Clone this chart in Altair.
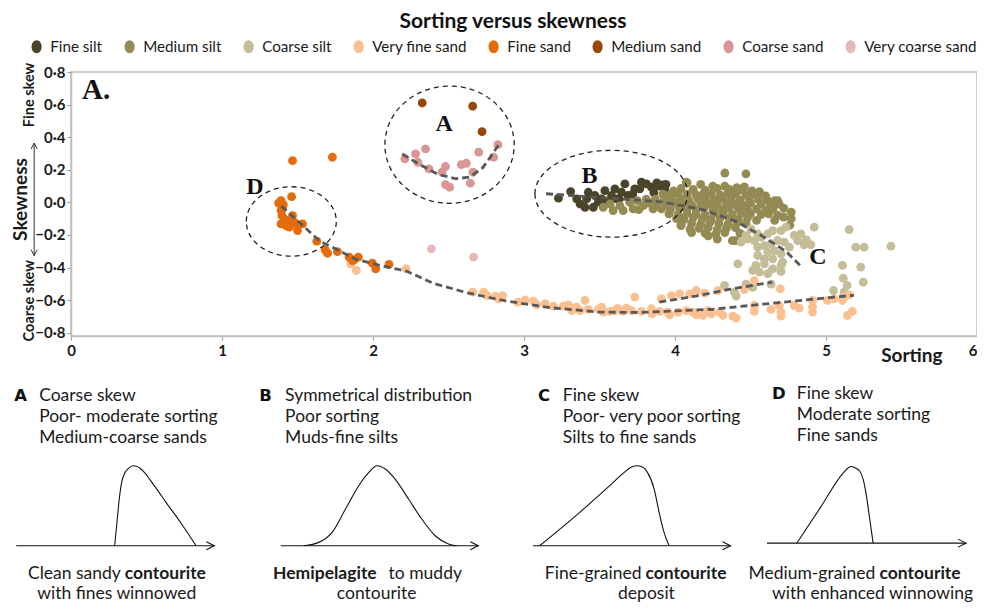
import altair as alt
import pandas as pd

# ------------------------------------------------------------------ data
categories = ["Fine silt", "Medium silt", "Coarse silt", "Very fine sand",
              "Fine sand", "Medium sand", "Coarse sand", "Very coarse sand"]
colors = ["#4A452A", "#948A54", "#C4BD97", "#FAC090",
          "#E46C0A", "#984807", "#D99694", "#E6B9B8"]

# (sorting, skewness) pairs
fine_silt = [
    (3.228, 0.026), (3.309, 0.066), (3.349, 0.021), (3.371, -0.010), (3.415, 0.021),
    (3.426, 0.062), (3.459, -0.030), (3.470, 0.042), (3.514, 0.021), (3.536, 0.072),
    (3.580, 0.042), (3.602, 0.083), (3.646, 0.062), (3.668, 0.113), (3.690, 0.042),
    (3.734, 0.083), (3.778, 0.124), (3.811, 0.113), (3.844, 0.093), (3.877, 0.103),
    (3.920, 0.107), (3.932, 0.083), (3.767, 0.083), (3.613, 0.021), (3.492, 0.001),
    (3.404, -0.030), (3.550, 0.000), (3.630, 0.020), (3.720, 0.050), (3.860, 0.060),
    (3.900, 0.100), (3.940, 0.110), (3.880, 0.120),
]
medium_silt = [
    (4.33, 0.18), (4.47, 0.175),
    (4.08, 0.12), (4.17, 0.11), (4.25, 0.10), (4.33, 0.10), (4.41, 0.09), (4.46, 0.095),
    (3.99, 0.07), (4.04, 0.085), (4.12, 0.08), (4.20, 0.075), (4.28, 0.085), (4.36, 0.08),
    (4.44, 0.075), (4.51, 0.07), (4.56, 0.065),
    (3.92, 0.05), (3.97, 0.045), (4.02, 0.055), (4.08, 0.05), (4.14, 0.045), (4.19, 0.055),
    (4.24, 0.05), (4.30, 0.045), (4.35, 0.055), (4.40, 0.05), (4.47, 0.045), (4.53, 0.05),
    (4.60, 0.04),
    (3.87, 0.02), (3.93, 0.015), (3.98, 0.025), (4.04, 0.02), (4.09, 0.015), (4.15, 0.025),
    (4.20, 0.02), (4.26, 0.015), (4.31, 0.025), (4.37, 0.02), (4.43, 0.015), (4.49, 0.025),
    (4.55, 0.02), (4.61, 0.015), (4.66, 0.01), (4.68, 0.01),
    (3.88, -0.01), (3.94, -0.015), (4.00, -0.005), (4.06, -0.01), (4.11, -0.015), (4.17, -0.005),
    (4.23, -0.01), (4.28, -0.015), (4.34, -0.005), (4.39, -0.01), (4.45, -0.015), (4.50, -0.005),
    (4.57, -0.01), (4.63, -0.02), (4.69, -0.01),
    (3.91, -0.04), (3.97, -0.045), (4.03, -0.035), (4.08, -0.04), (4.14, -0.045), (4.19, -0.035),
    (4.25, -0.04), (4.31, -0.045), (4.36, -0.035), (4.42, -0.04), (4.48, -0.045), (4.54, -0.04),
    (4.60, -0.05), (4.65, -0.04), (4.72, -0.035),
    (3.96, -0.07), (4.02, -0.075), (4.08, -0.065), (4.14, -0.07), (4.20, -0.075), (4.26, -0.065),
    (4.32, -0.07), (4.38, -0.075), (4.44, -0.065), (4.50, -0.07), (4.57, -0.075), (4.62, -0.07),
    (4.68, -0.08), (4.72, -0.09), (4.77, -0.06),
    (4.01, -0.10), (4.06, -0.105), (4.12, -0.095), (4.18, -0.10), (4.24, -0.105), (4.30, -0.095),
    (4.36, -0.10), (4.42, -0.105), (4.48, -0.095), (4.54, -0.11), (4.66, -0.11), (4.77, -0.10),
    (4.76, -0.14),
    (4.04, -0.14), (4.11, -0.13), (4.17, -0.135), (4.23, -0.125), (4.29, -0.13), (4.35, -0.135),
    (4.41, -0.125), (4.47, -0.13),
    (4.10, -0.165), (4.16, -0.16), (4.22, -0.155), (4.28, -0.165), (4.34, -0.16), (4.40, -0.155),
    (4.11, -0.185), (4.20, -0.19), (4.27, -0.195), (4.33, -0.185), (4.43, -0.19),
    (4.22, -0.205), (4.28, -0.225), (4.38, -0.235), (4.40, -0.235),
    (3.525, -0.03), (3.57, -0.01), (3.59, -0.05), (3.635, -0.02), (3.657, -0.05), (3.70, 0.0),
    (3.723, -0.04), (3.76, -0.045), (3.79, -0.02), (3.81, 0.02), (3.855, -0.04), (3.83, -0.005),
    (3.75, 0.01), (3.943, 0.04), (4.075, 0.124), (4.031, -0.091), (4.04, -0.142),
]
coarse_silt = [
    (4.922, -0.152), (5.153, -0.167), (5.197, -0.275), (5.252, -0.275), (5.430, -0.269),
    (5.109, -0.387), (5.230, -0.397), (5.114, -0.465), (5.247, -0.490), (5.050, -0.541),
    (5.120, -0.551), (5.140, -0.510),
    (4.504, -0.163), (4.548, -0.193), (4.438, -0.244), (4.482, -0.224), (4.526, -0.234),
    (4.570, -0.213), (4.614, -0.193), (4.647, -0.173), (4.702, -0.173), (4.735, -0.152),
    (4.790, -0.203), (4.812, -0.234), (4.856, -0.261), (4.834, -0.193), (4.548, -0.275),
    (4.592, -0.265), (4.636, -0.254), (4.680, -0.234), (4.724, -0.244), (4.757, -0.275),
    (4.614, -0.306), (4.658, -0.296), (4.702, -0.316), (4.548, -0.326), (4.592, -0.347),
    (4.647, -0.347), (4.713, -0.367), (4.536, -0.387), (4.592, -0.377), (4.515, -0.418),
    (4.559, -0.428), (4.614, -0.438), (4.647, -0.408), (4.702, -0.387), (4.702, -0.424),
    (4.471, -0.203), (4.416, -0.377), (4.328, -0.510), (4.394, -0.551), (4.405, -0.575),
    (4.471, -0.502), (4.515, -0.522), (4.636, -0.502), (4.870, -0.230), (4.900, -0.260),
]
very_fine_sand = [
    (1.853, -0.377), (1.890, -0.418), (2.220, -0.408),
    (2.660, -0.551), (2.733, -0.551), (2.755, -0.572), (2.810, -0.575), (2.832, -0.592),
    (2.858, -0.572), (2.959, -0.612), (3.008, -0.598), (3.063, -0.606), (3.085, -0.629),
    (3.140, -0.622), (3.195, -0.637), (3.261, -0.637), (3.294, -0.629), (3.316, -0.664),
    (3.349, -0.643), (3.404, -0.602), (3.371, -0.664), (3.426, -0.657), (3.492, -0.657),
    (3.514, -0.643), (3.525, -0.673), (3.569, -0.669), (3.657, -0.669), (3.679, -0.649),
    (3.734, -0.581), (3.305, -0.643), (3.600, -0.665), (3.620, -0.650),
    (3.712, -0.664), (3.778, -0.669), (3.844, -0.653), (3.848, -0.684), (3.899, -0.669),
    (3.954, -0.673), (3.965, -0.690), (4.020, -0.673), (4.075, -0.664), (4.119, -0.673),
    (4.141, -0.690), (4.185, -0.694), (4.218, -0.664), (4.240, -0.684), (4.295, -0.673),
    (4.317, -0.694), (4.383, -0.698), (4.405, -0.710), (4.526, -0.633), (4.526, -0.669),
    (4.636, -0.657), (4.691, -0.633), (4.702, -0.673), (4.702, -0.698), (4.790, -0.633),
    (4.823, -0.649), (4.911, -0.602), (4.911, -0.643), (4.911, -0.673), (5.010, -0.602),
    (5.054, -0.592), (5.109, -0.602), (5.120, -0.581), (5.153, -0.567), (5.142, -0.694),
    (5.175, -0.669),
    (3.910, -0.592), (3.976, -0.572), (4.031, -0.561), (4.097, -0.561), (4.141, -0.541),
    (4.196, -0.557), (4.284, -0.541), (4.460, -0.535), (4.526, -0.480), (4.698, -0.531),
]
fine_sand = [
    (1.467, 0.256), (1.731, 0.277), (1.461, 0.035), (1.391, 0.011), (1.375, -0.005),
    (1.402, -0.030), (1.391, -0.050), (1.397, -0.081), (1.413, -0.101), (1.391, -0.132),
    (1.424, -0.142), (1.446, -0.152), (1.467, -0.081), (1.479, -0.122), (1.500, -0.142),
    (1.533, -0.132), (1.500, -0.173), (1.406, -0.014), (1.434, -0.112), (1.628, -0.238),
    (1.683, -0.291), (1.699, -0.312), (1.764, -0.302), (1.842, -0.336), (1.875, -0.353),
    (1.903, -0.336), (1.864, -0.357), (1.996, -0.373), (2.018, -0.408), (2.106, -0.381),
]
medium_sand = [(2.326, 0.610), (2.660, 0.590), (2.722, 0.434)]
coarse_sand = [
    (2.211, 0.267), (2.282, 0.297), (2.348, 0.328), (2.297, 0.246), (2.370, 0.205),
    (2.480, 0.220), (2.458, 0.185), (2.480, 0.109), (2.508, 0.093), (2.585, 0.232),
    (2.618, 0.240), (2.662, 0.185), (2.645, 0.118), (2.700, 0.308), (2.799, 0.277),
    (2.827, 0.354),
]
very_coarse_sand = [(2.387, -0.285), (2.666, -0.336)]

# dashed trend lines (sorting, skewness)
trend_A = [(2.193, 0.297), (2.308, 0.233), (2.430, 0.172), (2.550, 0.145), (2.640, 0.155),
           (2.727, 0.213), (2.782, 0.284), (2.833, 0.356)]
trend_BC = [(3.146, 0.053), (3.510, 0.029), (3.896, 0.005), (4.180, -0.043), (4.400, -0.115),
            (4.578, -0.207), (4.733, -0.299), (4.843, -0.400)]
trend_main = [(1.393, -0.023), (1.520, -0.130), (1.647, -0.237), (1.890, -0.350), (2.060, -0.390),
              (2.220, -0.421), (2.400, -0.497), (2.620, -0.554), (2.880, -0.605), (3.170, -0.646),
              (3.500, -0.673), (3.760, -0.676), (4.250, -0.656), (4.580, -0.625), (4.800, -0.605),
              (5.020, -0.584), (5.185, -0.570)]
trend_upper = [(3.896, -0.612), (4.138, -0.575), (4.358, -0.534), (4.645, -0.489)]

# schematic grain-size curves: u = position along the panel axis (0-1), v = relative frequency (0-1)
curve_A_u = [0.497, 0.509, 0.521, 0.533, 0.548, 0.568, 0.590, 0.607, 0.625, 0.648, 0.673,
             0.715, 0.757, 0.800, 0.841, 0.875, 0.908]
curve_A_v = [0, 0.30, 0.60, 0.80, 0.91, 0.97, 1.0, 0.995, 0.97, 0.915, 0.834,
             0.69, 0.54, 0.395, 0.25, 0.125, 0]
curve_B_u = [0.117, 0.193, 0.260, 0.328, 0.395, 0.446, 0.487, 0.529, 0.579, 0.647, 0.714,
             0.782, 0.849, 0.890]
curve_B_v = [0, 0.042, 0.167, 0.459, 0.75, 0.917, 1.0, 0.959, 0.834, 0.584, 0.334,
             0.125, 0.021, 0]
curve_C_u = [0.034, 0.227, 0.403, 0.464, 0.494, 0.524, 0.555, 0.580, 0.614, 0.639, 0.664, 0.689]
curve_C_v = [0, 0.396, 0.784, 0.921, 0.978, 1.0, 0.984, 0.918, 0.709, 0.418, 0.167, 0]
curve_D_u = [0.150, 0.270, 0.3835, 0.4085, 0.425, 0.4415, 0.4665, 0.4835, 0.500, 0.5165, 0.5335]
curve_D_v = [0, 0.47, 0.918, 0.983, 1.0, 0.983, 0.939, 0.831, 0.614, 0.312, 0]

panel_letters = ["A", "B", "C", "D"]
panel_lines = [
    ["Coarse skew", "Poor- moderate sorting", "Medium-coarse sands"],
    ["Symmetrical distribution", "Poor sorting", "Muds-fine silts"],
    ["Fine skew", "Poor- very poor sorting", "Silts to fine sands"],
    ["Fine skew", "Moderate sorting", "Fine sands"],
]

# ------------------------------------------------------------------ layout (chart units)
x_scale = alt.Scale(domain=[0, 6], nice=False, zero=False)
y_scale = alt.Scale(domain=[-0.82, 0.8], nice=False, zero=False)
FONT = "Lato"

def X(field):
    return alt.X(field, type="quantitative", scale=x_scale)

def Y(field):
    return alt.Y(field, type="quantitative", scale=y_scale)

# scatter table
groups = [fine_silt, medium_silt, coarse_silt, very_fine_sand,
          fine_sand, medium_sand, coarse_sand, very_coarse_sand]
rows = []
for name, pts in zip(categories, groups):
    for sx, sk in pts:
        rows.append({"Sorting": sx, "Skewness": sk, "Fraction": name})
scatter_df = pd.DataFrame(rows)

legend_oval = "M-0.78,0 A0.78,1 0 1,1 0.78,0 A0.78,1 0 1,1 -0.78,0 Z"

points = alt.Chart(scatter_df).mark_circle(size=78, opacity=1, clip=False).encode(
    x=alt.X("Sorting:Q", scale=x_scale, axis=alt.Axis(
        title="Sorting", values=[0, 1, 2, 3, 4, 5, 6], format="d", grid=False, tickCount=7,
        labelAlign={"condition": {"test": "datum.value == 6", "value": "right"}, "value": "center"},
        labelFont=FONT, labelFontSize=15, labelFontWeight="bold", labelColor="#1a1a1a",
        labelPadding=3, tickSize=4, tickColor="#999999", domainColor="#bfbfbf", domainWidth=1.5,
        labelOverlap=False,
        titleFont=FONT, titleFontSize=19, titleFontWeight="bold", titleColor="#1a1a1a",
        titleX=871, titleY=25, titleAlign="right", titleBaseline="alphabetic")),
    y=alt.Y("Skewness:Q", scale=y_scale, axis=alt.Axis(
        title="Skewness", values=[-0.8, -0.6, -0.4, -0.2, 0, 0.2, 0.4, 0.6, 0.8], grid=False,
        tickCount=9,
        labelExpr="replace(format(datum.value, '.1f'), '.', '\u00b7')",
        labelFont=FONT, labelFontSize=15, labelFontWeight="bold", labelColor="#1a1a1a",
        labelPadding=2, tickSize=4, tickColor="#999999", domainColor="#bfbfbf", domainWidth=1.5,
        labelOverlap=False,
        titleFont=FONT, titleFontSize=19, titleFontWeight="bold", titleColor="#1a1a1a",
        titleX=-51, titleY=127, titleAngle=270, titleAlign="center", titleBaseline="middle")),
    color=alt.Color("Fraction:N", scale=alt.Scale(domain=categories, range=colors),
                    legend=alt.Legend(title=None, orient="none", legendX=-42, legendY=-33,
                                      direction="horizontal", symbolType=legend_oval,
                                      symbolSize=169, symbolStrokeWidth=0, labelFont=FONT,
                                      labelFontSize=15.2, labelColor="#1a1a1a", labelOffset=6,
                                      columnPadding=19, labelLimit=300)),
)

# dashed trend lines
trend_rows = []
for name, pts in [("A", trend_A), ("BC", trend_BC), ("main", trend_main), ("upper", trend_upper)]:
    for i, (sx, sk) in enumerate(pts):
        trend_rows.append({"line": name, "i": i, "x": sx, "y": sk})
trends = alt.Chart(pd.DataFrame(trend_rows)).mark_line(
    color="#595959", strokeWidth=2.8, strokeDash=[7, 4], clip=False
).encode(x=X("x"), y=Y("y"), detail="line:N", order="i:Q")

# dashed ellipses around groups A, B, D (center in chart units; size in px via custom symbol)
ell_df = pd.DataFrame({
    "x": [2.507, 3.578, 1.459],
    "y": [0.354, 0.053, -0.117],
    "shape": ["M-1,0 A1,0.907 0 1,1 1,0 A1,0.907 0 1,1 -1,0 Z",
              "M-1,0 A1,0.568 0 1,1 1,0 A1,0.568 0 1,1 -1,0 Z",
              "M-1,0 A1,0.771 0 1,1 1,0 A1,0.771 0 1,1 -1,0 Z"],
    "size": [129.3 ** 2, 152.7 ** 2, 90.0 ** 2],
})
ellipses = alt.Chart(ell_df).mark_point(
    filled=False, color="#222222", strokeWidth=1.3, strokeDash=[5, 4], opacity=1, clip=False
).encode(x=X("x"), y=Y("y"), shape=alt.Shape("shape:N", scale=None),
         size=alt.Size("size:Q", scale=None))

# group letters inside the plot
big_letter = alt.Chart(pd.DataFrame({"x": [0.0725], "y": [0.634], "t": ["A."]})).mark_text(
    font="Liberation Serif", fontWeight="bold", fontSize=29, align="left",
    baseline="alphabetic", color="#111111"
).encode(x=X("x"), y=Y("y"), text="t:N")
group_letters = alt.Chart(pd.DataFrame({
    "x": [2.471, 3.433, 4.947, 1.218], "y": [0.437, 0.121, -0.380, 0.049],
    "t": ["A", "B", "C", "D"]})).mark_text(
    font="Liberation Serif", fontWeight="bold", fontSize=24, align="center",
    baseline="alphabetic", color="#111111"
).encode(x=X("x"), y=Y("y"), text="t:N")

# fine / coarse skew labels with double arrow beside the y axis
side_text = alt.Chart(pd.DataFrame({
    "x": [-0.270, -0.270], "y": [0.659, -0.604], "t": ["Fine skew", "Coarse skew"]})).mark_text(
    font=FONT, fontWeight="bold", fontSize=14.5, angle=270, align="center",
    baseline="middle", color="#1a1a1a"
).encode(x=X("x"), y=Y("y"), text="t:N")
side_arrow = alt.Chart(pd.DataFrame({"x": [-0.244], "y": [0.362], "y2": [-0.325]})).mark_rule(
    color="#333333", strokeWidth=1
).encode(x=X("x"), y=Y("y"), y2="y2:Q")
side_heads = alt.Chart(pd.DataFrame({
    "x": [-0.244, -0.244], "y": [0.346, -0.309],
    "shape": ["M-1,1 L0,-1 L1,1", "M-1,-1 L0,1 L1,-1"]})).mark_point(
    filled=False, color="#333333", strokeWidth=1, size=36, opacity=1
).encode(x=X("x"), y=Y("y"), shape=alt.Shape("shape:N", scale=None))

# ------------------------------------------------------------------ lower panels
panel_x0 = [-0.363, 1.389, 3.059, 4.609]      # axis start
panel_x1 = [0.949, 2.697, 4.367, 5.927]       # axis end
panel_y0 = [-2.107, -2.107, -2.107, -2.091]   # axis level
panel_h = [0.4905, 0.4905, 0.4905, 0.470]     # curve peak height
letter_x = [-0.376, 1.246, 3.092, 4.642]
text_x = [-0.211, 1.418, 3.257, 4.807]
row_y = [[-1.218, -1.349, -1.475]] * 3 + [[-1.208, -1.335, -1.464]]

curve_rows = []
for p, (us, vs) in enumerate([(curve_A_u, curve_A_v), (curve_B_u, curve_B_v),
                              (curve_C_u, curve_C_v), (curve_D_u, curve_D_v)]):
    for u, v in zip(us, vs):
        curve_rows.append({"panel": panel_letters[p], "u": u,
                           "x": panel_x0[p] + u * (panel_x1[p] - panel_x0[p]),
                           "y": panel_y0[p] + v * panel_h[p]})
curves = alt.Chart(pd.DataFrame(curve_rows)).mark_line(
    color="#111111", strokeWidth=1.1, interpolate="monotone", clip=False
).encode(x=X("x"), y=Y("y"), detail="panel:N", order="u:Q")

axes_df = pd.DataFrame({"x": panel_x0, "x2": panel_x1, "y": panel_y0,
                        "xh": [v - 0.026 for v in panel_x1]})
panel_axes = alt.Chart(axes_df).mark_rule(color="#111111", strokeWidth=1.1).encode(
    x=X("x"), x2="x2:Q", y=Y("y"))
panel_heads = alt.Chart(axes_df).mark_point(
    shape="M-1,-1 L1,0 L-1,1", filled=False, color="#111111", strokeWidth=1.1, size=64, opacity=1
).encode(x=X("xh"), y=Y("y"))

letters_df = pd.DataFrame({"x": letter_x, "y": [r[0] for r in row_y], "t": panel_letters})
panel_letter_marks = alt.Chart(letters_df).mark_text(
    font="DejaVu Sans", fontWeight="bold", fontSize=16.5, align="left",
    baseline="alphabetic", color="#111111"
).encode(x=X("x"), y=Y("y"), text="t:N")

line_rows = []
for p in range(4):
    for k, txt in enumerate(panel_lines[p]):
        line_rows.append({"x": text_x[p], "y": row_y[p][k], "t": txt})
panel_text = alt.Chart(pd.DataFrame(line_rows)).mark_text(
    font=FONT, fontSize=17.5, align="left", baseline="alphabetic", color="#1a1a1a"
).encode(x=X("x"), y=Y("y"), text="t:N")

cap1 = -2.312
cap2 = -2.434
caption_regular = pd.DataFrame({
    "x": [0.330, 0.303, 2.103, 2.024, 3.778, 3.811, 5.327, 5.308],
    "y": [cap1, cap2, cap1, cap2, cap1, cap2, cap1, cap2],
    "t": ["Clean sandy", "with fines winnowed", "to muddy", "contourite",
          "Fine-grained", "deposit", "Medium-grained", "with enhanced winnowing"],
    "a": ["right", "center", "left", "center", "right", "center", "right", "center"],
})
caption_bold = pd.DataFrame({
    "x": [0.356, 1.338, 3.804, 5.354],
    "y": [cap1, cap1, cap1, cap1],
    "t": ["contourite", "Hemipelagite", "contourite", "contourite"],
})
cap_layers = []
for a in ["left", "center", "right"]:
    sub = caption_regular[caption_regular["a"] == a]
    cap_layers.append(alt.Chart(sub).mark_text(
        font=FONT, fontSize=17.5, align=a, baseline="alphabetic", color="#1a1a1a"
    ).encode(x=X("x"), y=Y("y"), text="t:N"))
cap_layers.append(alt.Chart(caption_bold).mark_text(
    font=FONT, fontSize=17.5, fontWeight="bold", align="left", baseline="alphabetic",
    color="#1a1a1a"
).encode(x=X("x"), y=Y("y"), text="t:N"))

chart = alt.layer(
    points, trends, ellipses, big_letter, group_letters, side_text, side_arrow, side_heads,
    curves, panel_axes, panel_heads, panel_letter_marks, panel_text, *cap_layers
).properties(
    width=906, height=264,
    title=alt.TitleParams("Sorting versus skewness", font=FONT, fontSize=21, fontWeight="bold",
                          color="#111111", anchor="middle", frame="group", dx=-11, offset=7),
    autosize=alt.AutoSizeParams(type="none"),
    padding={"left": 63, "top": 64, "right": 0, "bottom": 267},
).configure_view(stroke="#bfbfbf", strokeWidth=1.5)

chart.save("out.html", embed_options={"renderer": "svg", "actions": False})
